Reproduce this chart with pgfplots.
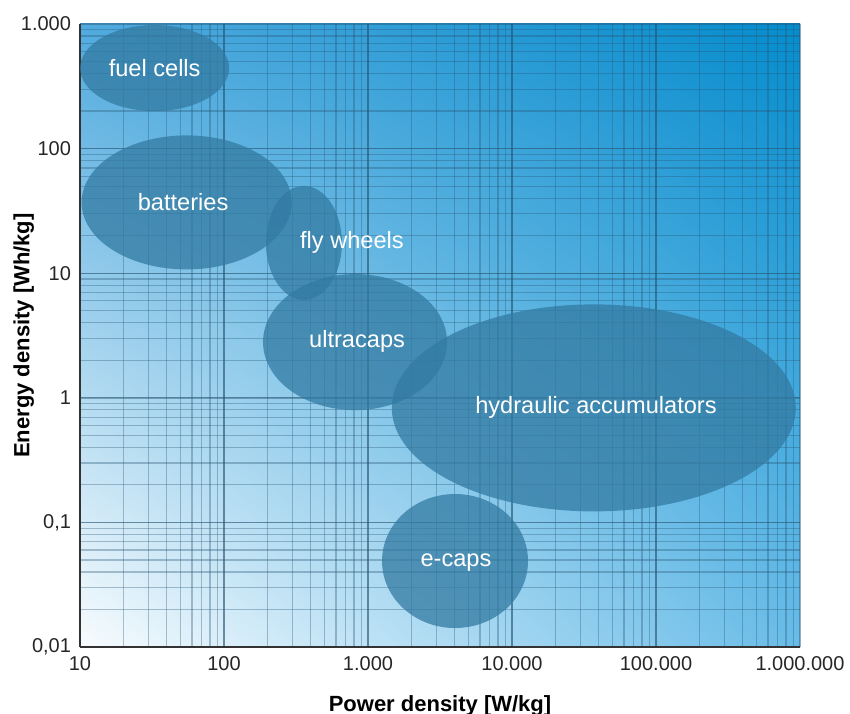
\documentclass[border=0pt]{standalone}
\usepackage{fontspec}
\setmainfont{Liberation Sans}
\usepackage{pgfplots}
\pgfplotsset{compat=1.18}
\usetikzlibrary{shadings}
\definecolor{bgUL}{RGB}{80,170,222}
\definecolor{bgUR}{RGB}{5,140,205}
\definecolor{bgLL}{RGB}{248,252,254}
\definecolor{bgLR}{RGB}{105,188,232}
\definecolor{ellc}{RGB}{50,122,162}
\definecolor{gridc}{RGB}{40,85,115}
\begin{document}
\begin{tikzpicture}
\path[use as bounding box] (-40pt,-33pt) rectangle (385pt,323.5pt);
\begin{axis}[
  scale only axis, width=360pt, height=311.5pt,
  at={(0,0)}, anchor=south west,
  xmode=log, ymode=log,
  xmin=10, xmax=1000000, ymin=0.01, ymax=1000,
  axis lines*=left, axis line style={-, line width=1.1pt, black!80},
  axis background/.style={shade, upper left=bgUL, upper right=bgUR, lower left=bgLL, lower right=bgLR},
  grid=both,
  major grid style={gridc, opacity=0.45, line width=0.7pt},
  minor grid style={gridc, opacity=0.35, line width=0.6pt},
  major tick length=0pt, minor tick length=0pt,
  xtick={10,100,1000,10000,100000,1000000},
  xticklabels={10,100,1.000,10.000,100.000,1.000.000},
  ytick={0.01,0.1,1,10,100,1000},
  yticklabels={{0,01},{0,1},1,10,100,{1.000}},
  /pgf/number format/assume math mode=true,
  tick label style={font=\fontsize{10}{12}\selectfont, text=black!85},
  xticklabel style={yshift=-1pt},
  yticklabel style={xshift=-1pt},
  xlabel={Power density [W/kg]},
  ylabel={Energy density [Wh/kg]},
  label style={font=\fontsize{11}{13}\selectfont\bfseries},
  xlabel style={at={(axis description cs:0.5,0)}, yshift=-20.5pt},
  ylabel style={at={(axis description cs:0,0.5)}, yshift=19.5pt},
  clip=false,
]
% ellipses: centre (x,y), half-axes in pt
\addplot[only marks, mark=*, mark size=1pt, mark options={draw=ellc, draw opacity=0, fill=ellc, fill opacity=0.75, xscale=37.25, yscale=21.5}] coordinates {(33,443)};
\addplot[only marks, mark=*, mark size=1pt, mark options={draw=ellc, draw opacity=0, fill=ellc, fill opacity=0.75, xscale=52.5, yscale=33.5}] coordinates {(55,37)};
\addplot[only marks, mark=*, mark size=1pt, mark options={draw=ellc, draw opacity=0, fill=ellc, fill opacity=0.75, xscale=19, yscale=28.5}] coordinates {(359,17.5)};
\addplot[only marks, mark=*, mark size=1pt, mark options={draw=ellc, draw opacity=0, fill=ellc, fill opacity=0.75, xscale=46, yscale=34}] coordinates {(813,2.8)};
\addplot[only marks, mark=*, mark size=1pt, mark options={draw=ellc, draw opacity=0, fill=ellc, fill opacity=0.75, xscale=101, yscale=51.75}] coordinates {(37000,0.83)};
\addplot[only marks, mark=*, mark size=1pt, mark options={draw=ellc, draw opacity=0, fill=ellc, fill opacity=0.75, xscale=36.5, yscale=33.5}] coordinates {(4020,0.049)};
% labels
\addplot[draw=none, mark=none, nodes near coords, point meta=explicit symbolic,
  nodes near coords align={center},
  every node near coord/.append style={text=white, font=\fontsize{11.8}{13}\selectfont, anchor=center}]
  coordinates {
  (33,443) [fuel cells]
  (52,37) [batteries]
  (774,17.7) [fly wheels]
  (840,2.85) [ultracaps]
  (38300,0.84) [hydraulic accumulators]
  (4080,0.048) [e-caps]
  };
\end{axis}
\end{tikzpicture}
\end{document}
